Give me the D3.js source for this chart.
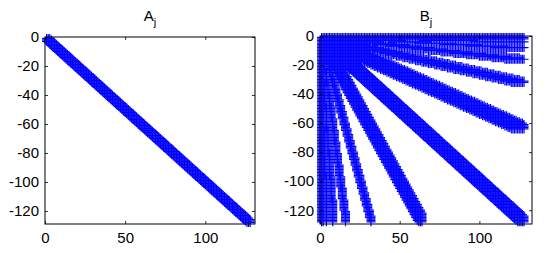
<!DOCTYPE html>
<html>
<head>
<meta charset="utf-8">
<script src="https://cdn.jsdelivr.net/npm/d3@7"></script>
<style>
  html, body { margin: 0; padding: 0; background: #fff; }
  svg { display: block; }
  text { font-family: "Liberation Sans", Arial, Helvetica, sans-serif; fill: #000; }
</style>
</head>
<body>
<svg id="chart" width="550" height="253"></svg>
<script>
// ---- data ----
const titles = ["A", "B"];
const subscripts = ["j", "j"];
const xTicks = [0, 50, 100];
const yTicks = [0, -20, -40, -60, -80, -100, -120];
const matrixSize = 128;

// Spy-bands of each panel: end point of each band (from the origin) and its extra half-width (in entries)
const aBandEndX = [128];
const aBandEndY = [-128];
const aBandWidth = [2];
const bBandEndX = [128, 128, 128, 128, 128, 128, 128, 128, 64, 32, 16, 8, 4, 2, 1];
const bBandEndY = [-1, -2, -4, -8, -16, -32, -64, -128, -128, -128, -128, -128, -128, -128, -128];
const bBandWidth = [0, 0, 0, 3, 5, 5, 7, 4, 5, 1, 0, 0, 0, 0, 0];

// ---- build matrix entries (spy pattern) from bands ----
function bandPoints(endX, endY, width) {
  const seen = new Set(), pts = [];
  const add = (j, i) => {
    if (j < 1 || j > matrixSize || i < 1 || i > matrixSize) return;
    const key = i * 1000 + j;
    if (!seen.has(key)) { seen.add(key); pts.push([j, -i]); }
  };
  endX.forEach((ex, k) => {
    const ey = Math.abs(endY[k]), w = width[k];
    if (ex >= ey) {
      const r = ex / ey;
      for (let i = 1; i <= ey; i++)
        for (let j = (i - 1) * r + 1 - w; j <= i * r + w; j++) add(j, i);
    } else {
      const r = ey / ex;
      for (let j = 1; j <= ex; j++)
        for (let i = (j - 1) * r + 1 - w; i <= j * r + w; i++) add(j, i);
    }
  });
  return pts;
}
const panels = [
  { title: titles[0], sub: subscripts[0], pts: bandPoints(aBandEndX, aBandEndY, aBandWidth),
    x0: 45, x1: 255, y0: 37, y1: 224, xmax: 131, ymin: -129 },
  { title: titles[1], sub: subscripts[1], pts: bandPoints(bBandEndX, bBandEndY, bBandWidth),
    x0: 320, x1: 532, y0: 36, y1: 224, xmax: 133, ymin: -129.5 }
];

const svg = d3.select("#chart");
const arm = 4.5;

panels.forEach(p => {
  const x = d3.scaleLinear().domain([0, p.xmax]).range([p.x0, p.x1]);
  const y = d3.scaleLinear().domain([p.ymin, 0]).range([p.y1, p.y0]);
  const g = svg.append("g");

  // markers
  const path = d3.path();
  p.pts.forEach(([a, b]) => {
    const px = x(a), py = y(b);
    path.moveTo(px - arm, py); path.lineTo(px + arm, py);
    path.moveTo(px, py - arm); path.lineTo(px, py + arm);
  });
  g.append("path").attr("d", path.toString())
    .attr("stroke", "#0000ff").attr("stroke-width", 1.2).attr("fill", "none");

  // axes (MATLAB style: box, inward ticks)
  const tl = 3;
  const ax = g.append("g");
  ax.append("g").attr("transform", `translate(0,${p.y1})`)
    .call(d3.axisBottom(x).tickValues(xTicks).tickSizeInner(-tl).tickSizeOuter(0).tickPadding(8))
    .call(s => s.select(".domain").remove());
  ax.append("g").attr("transform", `translate(0,${p.y0})`)
    .call(d3.axisTop(x).tickValues(xTicks).tickSizeInner(-tl).tickSizeOuter(0).tickFormat(""))
    .call(s => s.select(".domain").remove());
  ax.append("g").attr("transform", `translate(${p.x0},0)`)
    .call(d3.axisLeft(y).tickValues(yTicks).tickSizeInner(-tl).tickSizeOuter(0).tickPadding(6)
      .tickFormat(d => d < 0 ? "-" + Math.abs(d) : d))
    .call(s => s.select(".domain").remove());
  ax.append("g").attr("transform", `translate(${p.x1},0)`)
    .call(d3.axisRight(y).tickValues(yTicks).tickSizeInner(-tl).tickSizeOuter(0).tickFormat(""))
    .call(s => s.select(".domain").remove());
  ax.selectAll("text").style("font-size", "15px").attr("fill", "#000");
  ax.selectAll(".tick line").attr("stroke", "#000").attr("stroke-width", 0.8);

  g.append("rect").attr("x", p.x0).attr("y", p.y0)
    .attr("width", p.x1 - p.x0).attr("height", p.y1 - p.y0)
    .attr("fill", "none").attr("stroke", "#000").attr("stroke-width", 1);

  // title with subscript
  const t = g.append("text").attr("x", (p.x0 + p.x1) / 2).attr("y", 21)
    .attr("text-anchor", "middle").style("font-size", "15px");
  t.append("tspan").text(p.title);
  t.append("tspan").attr("dy", 5).style("font-size", "11px").text(p.sub);
});
</script>
</body>
</html>
